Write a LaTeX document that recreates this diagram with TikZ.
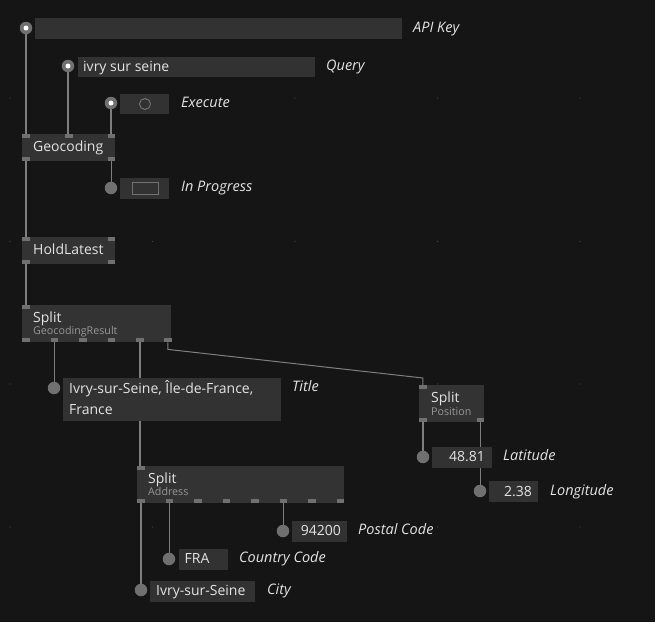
\documentclass[tikz,border=0pt]{standalone}
\usepackage{fontspec}
\setmainfont{Open Sans}
\definecolor{bg}{HTML}{151515}
\definecolor{nodebg}{HTML}{333333}
\definecolor{boxbg}{HTML}{323232}
\definecolor{portc}{HTML}{707070}
\definecolor{wirec}{HTML}{7E7E7E}
\definecolor{txtc}{HTML}{E4E4E4}
\definecolor{subc}{HTML}{979797}
\definecolor{dotc}{HTML}{4A4A4A}
\pgfdeclarelayer{bgl}
\pgfdeclarelayer{wires}
\pgfsetlayers{bgl,wires,main}
\tikzset{
  valbox/.style={fill=boxbg, inner sep=0, anchor=north west},
  opbox/.style={fill=nodebg, inner sep=0, anchor=north west},
  portsq/.style={fill=portc, inner sep=0, minimum width=7.5pt, minimum height=4pt, anchor=north west},
  pinfill/.style={circle, fill=portc, inner sep=0, minimum size=12.5pt},
  pindot/.style={circle, fill=white, inner sep=0, minimum size=5pt},
  lbl/.style={text=txtc, font=\itshape\fontsize{14.5}{17}\selectfont, anchor=base west, inner sep=0},
  ttl/.style={text=txtc, font=\fontsize{14}{17}\selectfont, anchor=base west, inner sep=0},
  valtxt/.style={text=txtc, font=\fontsize{14}{17}\selectfont, inner sep=0},
  subt/.style={text=subc, font=\fontsize{10.7}{13}\selectfont, anchor=base west, inner sep=0},
  wire/.style={draw=wirec, line width=1.3pt},
}
\begin{document}
\begin{tikzpicture}[x=1pt,y=-1pt]
\begin{pgfonlayer}{bgl}
  \fill[bg] (0,0) rectangle (655,622);
  \foreach \gx in {10,152.5,295,437.5,580}
    \foreach \gy in {98,241.5,384,527}
      \fill[dotc] (\gx,\gy) circle (0.7);
\end{pgfonlayer}
\useasboundingbox (0,0) rectangle (655,622);

% ---------- API Key ----------
\node[pinfill] (apipin) at (26,28) {};
\node[pindot] (apidot) at (apipin.center) {};
\node[valbox, minimum width=367pt, minimum height=21pt] (apibox) at (35,18) {};
\node[lbl] (apilbl) at (413,32) {API Key};

% ---------- Query ----------
\node[pinfill] (qpin) at (68,66) {};
\node[pindot] (qdot) at (qpin.center) {};
\node[valbox, minimum width=237pt, minimum height=20pt] (qbox) at (78,57) {};
\node[valtxt, anchor=base west] (qtxt) at (83,71.5) {ivry sur seine};
\node[lbl] (qlbl) at (326,70.7) {Query};

% ---------- Execute ----------
\node[pinfill] (epin) at (111,103) {};
\node[pindot] (edot) at (epin.center) {};
\node[valbox, minimum width=49pt, minimum height=20pt] (ebox) at (120,94) {};
\node[circle, draw=portc, line width=1pt, minimum size=11pt, inner sep=0] (ecirc) at (145,104) {};
\node[lbl] (elbl) at (181,107) {Execute};

% ---------- Geocoding ----------
\node[opbox, minimum width=93pt, minimum height=27pt] (geo) at (22,134) {};
\node[portsq] (gin1) at (22,134) {};
\node[portsq] (gin2) at (65,134) {};
\node[portsq] (gin3) at (107.5,134) {};
\node[portsq] (gout1) at (22,157) {};
\node[portsq] (gout2) at (107.5,157) {};
\node[ttl] (geot) at (33,151.7) {Geocoding};

% ---------- In Progress ----------
\node[pinfill] (ppin) at (111,188) {};
\node[valbox, minimum width=49pt, minimum height=21pt] (pbox) at (120,178) {};
\node[draw=portc, line width=1pt, minimum width=26pt, minimum height=12pt, inner sep=0] (prect) at (145,188) {};
\node[lbl] (plbl) at (181,191) {In Progress};

% ---------- HoldLatest ----------
\node[opbox, minimum width=93pt, minimum height=27pt] (hold) at (22,237) {};
\node[portsq] (hin1) at (22,237) {};
\node[portsq] (hin2) at (107.5,237) {};
\node[portsq] (hout1) at (22,260) {};
\node[portsq] (hout2) at (107.5,260) {};
\node[ttl] (holdt) at (33,254.3) {HoldLatest};

% ---------- Split GeocodingResult ----------
\node[opbox, minimum width=149pt, minimum height=37pt] (sgr) at (22,305) {};
\node[portsq] (sgin) at (22,305) {};
\foreach \i/\px in {1/22,2/50.5,3/79,4/107.5,5/136,6/164}
  \node[portsq] (sgout\i) at (\px,338) {};
\node[ttl] (sgrt) at (33,322.3) {Split};
\node[subt] (sgrs) at (33,334.5) {GeocodingResult};

% ---------- Title ----------
\node[pinfill] (tpin) at (54,388) {};
\node[valbox, minimum width=218pt, minimum height=43pt] (tbox) at (63,378) {};
\node[valtxt, anchor=base west] (tt1) at (69,393.3) {Ivry-sur-Seine, Île-de-France,};
\node[valtxt, anchor=base west] (tt2) at (69,414) {France};
\node[lbl] (tlbl) at (292,391.7) {Title};

% ---------- Split Position ----------
\node[opbox, minimum width=65pt, minimum height=37pt] (spos) at (419,385) {};
\node[portsq] (spin) at (419,385) {};
\node[portsq] (spout1) at (419,418) {};
\node[portsq] (spout2) at (476.5,418) {};
\node[ttl] (spost) at (431,402.3) {Split};
\node[subt] (sposs) at (431,415) {Position};

% ---------- Latitude ----------
\node[pinfill] (latpin) at (423,457) {};
\node[valbox, minimum width=60pt, minimum height=21pt] (latbox) at (432,447) {};
\node[valtxt, anchor=base east] (latt) at (485,461.7) {48.81};
\node[lbl] (latlbl) at (503,460) {Latitude};

% ---------- Longitude ----------
\node[pinfill] (lonpin) at (480,491) {};
\node[valbox, minimum width=49pt, minimum height=21pt] (lonbox) at (489,481) {};
\node[valtxt, anchor=base east] (lont) at (532,496.7) {2.38};
\node[lbl] (lonlbl) at (550,495) {Longitude};

% ---------- Split Address ----------
\node[opbox, minimum width=207pt, minimum height=37pt] (sad) at (137,466) {};
\node[portsq] (sain) at (137,466) {};
\foreach \i/\px in {1/137,2/165.5,3/194,4/222.5,5/251,6/279.5,7/308,8/336.5}
  \node[portsq] (saout\i) at (\px,499) {};
\node[ttl] (sadt) at (148,483.3) {Split};
\node[subt] (sads) at (148,495.7) {Address};

% ---------- Postal Code ----------
\node[pinfill] (pcpin) at (283,531) {};
\node[valbox, minimum width=55pt, minimum height=21pt] (pcbox) at (292,521) {};
\node[valtxt, anchor=base east] (pct) at (341,535.5) {94200};
\node[lbl] (pclbl) at (358,534) {Postal Code};

% ---------- Country Code ----------
\node[pinfill] (ccpin) at (169,559) {};
\node[valbox, minimum width=49pt, minimum height=21pt] (ccbox) at (179,549) {};
\node[valtxt, anchor=base west] (cct) at (184.5,563.5) {FRA};
\node[lbl] (cclbl) at (239,562.7) {Country Code};

% ---------- City ----------
\node[pinfill] (citypin) at (141,590) {};
\node[valbox, minimum width=105pt, minimum height=21pt] (citybox) at (150,581) {};
\node[valtxt, anchor=base west] (cityt) at (156,595) {Ivry-sur-Seine};
\node[lbl] (citylbl) at (267,594) {City};

% ---------- wires ----------
\begin{pgfonlayer}{wires}
  \draw[wire] (apipin.center) -- (apipin.center |- gin1.north);
  \draw[wire] (qpin.center) -- (qpin.center |- gin2.north);
  \draw[wire] (epin.center) -- (epin.center |- gin3.north);
  \draw[wire] (gout2.south) -- (gout2.south |- ppin.center);
  \draw[wire] (gout1.south) -- (gout1.south |- hin1.north);
  \draw[wire] (hout1.south) -- (hout1.south |- sgin.north);
  \draw[wire] (sgout2.south) -- (sgout2.south |- tpin.center);
  \draw[wire] (sgout5.south) -- (sgout5.south |- sain.north);
  \draw[wire, line width=1pt] (sgout6.south) -- ++(0,7) -- ([yshift=7pt]spin.north) -- (spin.north);
  \draw[wire] (spout1.south) -- (spout1.south |- latpin.center);
  \draw[wire] (spout2.south) -- (spout2.south |- lonpin.center);
  \draw[wire] (saout1.south) -- (saout1.south |- citypin.center);
  \draw[wire] (saout2.south) -- (saout2.south |- ccpin.center);
  \draw[wire] (saout6.south) -- (saout6.south |- pcpin.center);
\end{pgfonlayer}
\end{tikzpicture}
\end{document}
